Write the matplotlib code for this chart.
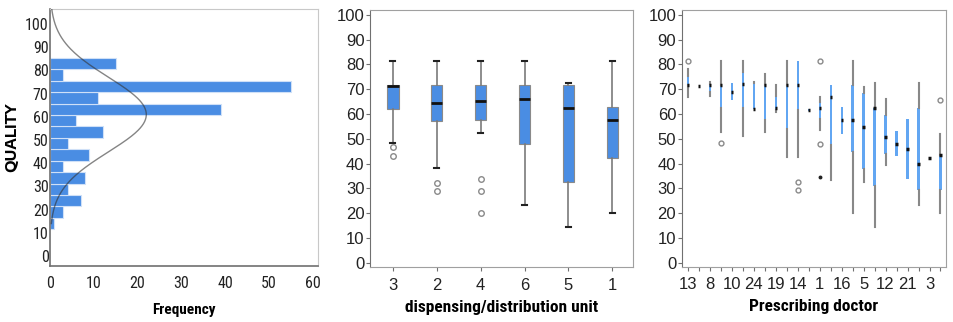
import numpy as np
import matplotlib.pyplot as plt

plt.rcParams['font.family'] = ['Liberation Sans', 'DejaVu Sans']
NARROW = ['Roboto Condensed', 'Liberation Sans', 'DejaVu Sans']

# --- histogram of QUALITY (bins from bottom to top) ---
bin_lo = 11.5
bin_w = 4.93
hist_counts = [1, 3, 7, 4, 8, 3, 9, 4, 12, 6, 39, 11, 55, 3, 15]
fit_mean = 61.0
fit_sd = 16.1

# --- boxplots by dispensing/distribution unit ---
units = ['3', '2', '4', '6', '5', '1']
u_lo = [48.2, 38.1, 52.3, 23.2, 14.3, 20.0]
u_q1 = [61.9, 57.2, 57.7, 47.8, 32.6, 42.3]
u_med = [71.5, 64.4, 65.1, 65.9, 62.4, 57.8]
u_q3 = [71.7, 71.7, 71.7, 71.7, 71.7, 62.7]
u_hi = [81.5, 81.5, 81.5, 81.5, 72.5, 81.5]
u_out = [[46.6, 42.9], [32.2, 29.1], [33.8, 28.8, 20.1], [], [], []]

# --- boxplots by prescribing doctor (only every second label shown) ---
doctors = ['13', '', '8', '', '10', '', '24', '', '19', '', '14', '',
           '1', '', '16', '', '5', '', '12', '', '21', '', '3', '']
d_lo = [66.7, 71.4, 67.4, 52.6, 65.8, 51.3, 62.0, 52.6, 60.7, 42.7, 42.7, 61.3,
        53.4, 33.5, 52.1, 20.1, 32.5, 14.3, 39.3, 42.9, 33.8, 23.2, 42.3, 20.1]
d_q1 = [71.7, 71.4, 69.1, 62.4, 65.8, 62.4, 62.0, 57.7, 61.5, 54.1, 61.7, 61.3,
        58.0, 47.4, 52.1, 44.7, 38.0, 30.9, 43.9, 42.9, 33.8, 29.2, 42.3, 29.2]
d_med = [71.7, 71.4, 71.8, 71.8, 69.1, 72.3, 62.2, 71.7, 62.4, 71.8, 71.8, 61.7,
         62.4, 66.7, 57.4, 57.4, 54.6, 62.4, 50.6, 47.9, 45.9, 40.0, 42.3, 43.6]
d_q3 = [75.5, 71.4, 72.3, 71.8, 72.7, 76.8, 72.7, 71.7, 67.1, 71.8, 81.5, 62.0,
        64.7, 71.8, 62.7, 71.8, 68.5, 62.4, 59.5, 53.0, 58.0, 62.4, 42.3, 43.6]
d_hi = [78.1, 71.4, 72.9, 81.5, 72.7, 81.5, 72.9, 76.2, 71.8, 81.5, 81.5, 62.0,
        66.7, 71.8, 62.7, 81.5, 70.9, 72.7, 66.0, 53.0, 58.0, 72.5, 42.3, 52.1]
d_out = [[81.5], [], [], [48.3], [], [], [], [], [], [], [32.6, 29.5], [],
         [81.5, 47.9], [], [], [], [], [], [], [], [], [], [], [65.8]]
d_extreme = {12: [34.5]}

fig = plt.figure(figsize=(9.54, 3.22), dpi=100)
frame_col = '#a0a0a0'

# ---------------- histogram ----------------
ax1 = fig.add_axes([0.0524, 0.174, 0.281, 0.798])
edges = bin_lo + bin_w * np.arange(len(hist_counts))
ax1.barh(edges, hist_counts, height=bin_w, align='edge', color='#4a8de3',
         edgecolor='#cfe0f7', linewidth=0.8, zorder=2)
yy = np.linspace(14, 106.5, 300)
scale = sum(hist_counts) * bin_w / (fit_sd * np.sqrt(2 * np.pi))
ax1.plot(scale * np.exp(-0.5 * ((yy - fit_mean) / fit_sd) ** 2), yy,
         color='#333333', alpha=0.6, lw=1.0, zorder=3)
ax1.set_xlim(0, 61.2)
ax1.set_ylim(-4.3, 106.5)
ax1.set_yticks(range(0, 101, 10))
ax1.set_xticks(range(0, 61, 10))
ax1.tick_params(axis='both', length=0, labelsize=11.5, colors='#222222', pad=1)
ax1.tick_params(axis='x', pad=7)
for lab in ax1.get_xticklabels() + ax1.get_yticklabels():
    lab.set_family(NARROW)
for s in ['top', 'right']:
    ax1.spines[s].set_color('#c8c8c8')
for s in ['left', 'bottom']:
    ax1.spines[s].set_color('#707070')
    ax1.spines[s].set_linewidth(1.2)
ax1.set_xlabel('Frequency', fontsize=11, fontweight='bold', family=NARROW, labelpad=9)
ax1.set_ylabel('QUALITY', fontsize=10, fontweight='bold',
               family=['Encode Sans Expanded', 'Liberation Sans'], labelpad=4)

# ---------------- unit boxplots ----------------
ax2 = fig.add_axes([0.3878, 0.171, 0.2757, 0.798])
stats = []
for i in range(len(units)):
    stats.append(dict(whislo=u_lo[i], q1=u_q1[i], med=u_med[i], q3=u_q3[i],
                      whishi=u_hi[i], fliers=u_out[i], label=units[i]))
ax2.bxp(stats, positions=range(len(units)), widths=0.26, capwidths=0.12,
        patch_artist=True,
        boxprops=dict(facecolor='#4a8de3', edgecolor='#8a8a8a', linewidth=0.8),
        medianprops=dict(color='#111111', linewidth=2),
        whiskerprops=dict(color='#7a7a7a', linewidth=1.2),
        capprops=dict(color='#222222', linewidth=1.5),
        flierprops=dict(marker='o', markersize=4, markerfacecolor='none',
                        markeredgecolor='#8a8a8a', markeredgewidth=1))
ax2.set_xlim(-0.52, 5.47)
ax2.set_ylim(-1.7, 102)
ax2.set_yticks(range(0, 101, 10))
ax2.tick_params(axis='both', length=3, labelsize=12, colors='#222222', pad=1)
ax2.tick_params(axis='both', which='both', color='#707070')
ax2.tick_params(axis='x', pad=5)
for s in ax2.spines.values():
    s.set_color(frame_col)
ax2.spines['left'].set_color('#707070')
ax2.set_xlabel('dispensing/distribution unit', fontsize=12.5, fontweight='bold',
               family=NARROW, labelpad=5)

# ---------------- doctor boxplots ----------------
ax3 = fig.add_axes([0.7146, 0.171, 0.277, 0.798])
stats = []
for i in range(len(doctors)):
    stats.append(dict(whislo=d_lo[i], q1=d_q1[i], med=d_med[i], q3=d_q3[i],
                      whishi=d_hi[i], fliers=d_out[i], label=doctors[i]))
ax3.bxp(stats, positions=range(len(doctors)), widths=0.2, showcaps=False,
        patch_artist=True,
        boxprops=dict(facecolor='#62a6f2', edgecolor='none', linewidth=0),
        medianprops=dict(color='#111111', linewidth=2.5),
        whiskerprops=dict(color='#888888', linewidth=1.5),
        flierprops=dict(marker='o', markersize=3.5, markerfacecolor='none',
                        markeredgecolor='#8a8a8a', markeredgewidth=1))
for i, vals in d_extreme.items():
    ax3.plot([i] * len(vals), vals, 'o', ms=1.8, color='#222222')
ax3.set_xlim(-0.55, 23.5)
ax3.set_ylim(-1.7, 102)
ax3.set_yticks(range(0, 101, 10))
ax3.tick_params(axis='both', length=3, labelsize=12, colors='#222222', pad=1)
ax3.tick_params(axis='both', which='both', color='#707070')
ax3.tick_params(axis='x', pad=4)
for s in ax3.spines.values():
    s.set_color(frame_col)
ax3.spines['left'].set_color('#707070')
ax3.set_xlabel('Prescribing doctor', fontsize=12.5, fontweight='bold',
               family=NARROW, labelpad=5)

fig.savefig('out.png', dpi=100)
